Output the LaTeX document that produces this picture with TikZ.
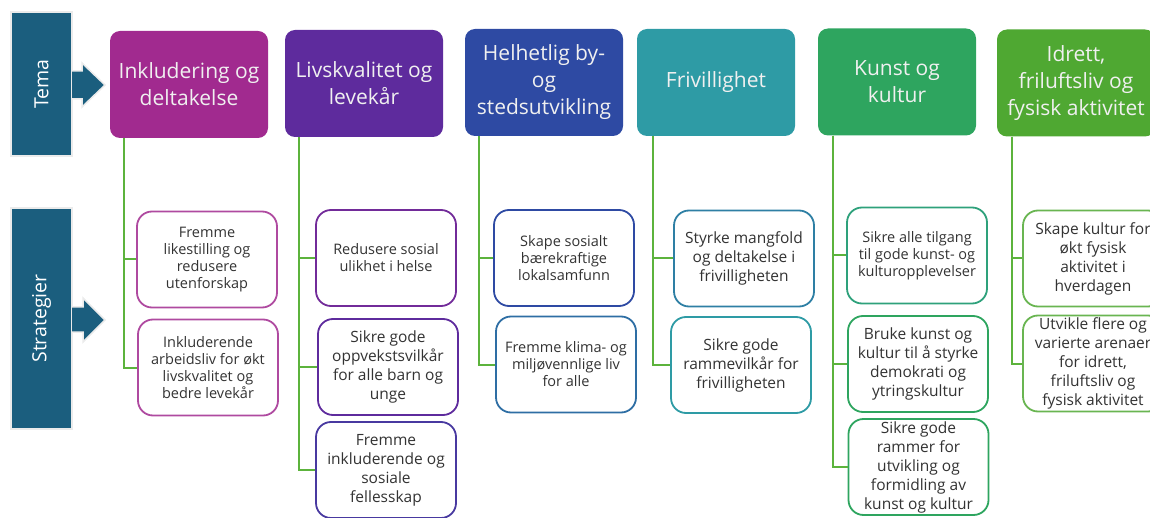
\documentclass[tikz,border=0pt]{standalone}
\usepackage{fontspec}
\setmainfont{Open Sans}
\definecolor{panelblue}{HTML}{1B5E7E}
\definecolor{linkgreen}{HTML}{5CB33C}
\definecolor{textgray}{HTML}{333333}
\definecolor{hone}{HTML}{A12A8F}
\definecolor{htwo}{HTML}{5E2B9D}
\definecolor{hthree}{HTML}{2E4AA3}
\definecolor{hfour}{HTML}{2E9BA5}
\definecolor{hfive}{HTML}{2EA55F}
\definecolor{hsix}{HTML}{4FA832}

\begin{document}
\begin{tikzpicture}[x=1pt, y=-1pt,
	panel/.style={fill=panelblue, draw=black!8, line width=1.5pt, text=white, inner sep=0pt, font=\fontsize{19.5}{23}\selectfont},
	theme/.style={fill=#1, rounded corners=10pt, minimum width=158pt, minimum height=107pt, text=white!94!black, align=center, inner sep=0pt, font=\fontsize{21}{27}\selectfont},
	strat/.style={draw=#1, fill=white, line width=1.8pt, rounded corners=15pt, minimum width=140pt, minimum height=96pt, align=center, text=textgray, inner sep=0pt, font=\fontsize{14.5}{17}\selectfont},
	big/.style={font=\fontsize{15.5}{19}\selectfont},
	link/.style={draw=linkgreen, line width=2pt}]
	%%%%% START %%%%%
	
	\useasboundingbox (0,0) rectangle (1150,518);
	\clip (0,0) rectangle (1150,518);
	
	% left panels
	\node[panel, minimum width=144pt, minimum height=61pt, rotate=90] (tema) at (41.5,84) {Tema};
	\node[panel, minimum width=221pt, minimum height=61pt, rotate=90] (strategier) at (41.5,318.5) {Strategier};
	\draw[panel] (72,71) -- (82,71) -- (82,63) -- (105,85) -- (82,107) -- (82,99) -- (72,99);
	\draw[panel] (72,307) -- (83,307) -- (83,298) -- (105,320) -- (83,342) -- (83,332) -- (72,332);
	
	% themes
	\node[theme=hone] (h1) at (189,84.5) {Inkludering og\\deltakelse};
	\node[theme=htwo] (h2) at (364,83.5) {Livskvalitet og\\levekår};
	\node[theme=hthree] (h3) at (544,82.5) {Helhetlig by-\\og\\stedsutvikling};
	\node[theme=hfour] (h4) at (716,82.5) {Frivillighet};
	\node[theme=hfive] (h5) at (897,82) {Kunst og\\kultur};
	\node[theme=hsix] (h6) at (1076,83) {Idrett,\\friluftsliv og\\fysisk aktivitet};
	
	% strategies
	\node[strat=hone!85!white] (s1a) at (207,259.5) {Fremme\\likestilling og\\redusere\\utenforskap};
	\node[strat=hone!85!white] (s1b) at (208,367.5) {Inkluderende\\arbeidsliv for økt\\livskvalitet og\\bedre levekår};
	
	\node[strat=htwo!70!hone] (s2a) at (386,258) {Redusere sosial\\ulikhet i helse};
	\node[strat=htwo, big] (s2b) at (388,367) {Sikre gode\\oppvekstsvilkår\\for alle barn og\\unge};
	\node[strat=htwo!55!hthree, big] (s2c) at (386,470) {Fremme\\inkluderende og\\sosiale\\fellesskap};
	
	\node[strat=hthree] (s3a) at (564,258) {Skape sosialt\\bærekraftige\\lokalsamfunn};
	\node[strat=hthree!55!hfour] (s3b) at (566,364.5) {Fremme klima- og\\miljøvennlige liv\\for alle};
	
	\node[strat=hfour!65!hthree, big] (s4a) at (744,258.5) {Styrke mangfold\\og deltakelse i\\frivilligheten};
	\node[strat=hfour, big] (s4b) at (741,365) {Sikre gode\\rammevilkår for\\frivilligheten};
	
	\node[strat=hfive!60!hfour] (s5a) at (917,255.5) {Sikre alle tilgang\\til gode kunst- og\\kulturopplevelser};
	\node[strat=hfive, big] (s5b) at (918,364) {Bruke kunst og\\kultur til å styrke\\demokrati og\\ytringskultur};
	\node[strat=hfive, big] (s5c) at (918.5,467) {Sikre gode\\rammer for\\utvikling og\\formidling av\\kunst og kultur};
	
	\node[strat=hsix!85!white, big] (s6a) at (1093,258.5) {Skape kultur for\\økt fysisk\\aktivitet i\\hverdagen};
	\node[strat=hsix!85!white, big] (s6b) at (1093,363.5) {Utvikle flere og\\varierte arenaer\\for idrett,\\friluftsliv og\\fysisk aktivitet};
	
	% connectors
	\draw[link] ([xshift=14pt]h1.south west) |- (s1a.west);
	\draw[link] ([xshift=14pt]h1.south west) |- (s1b.west);
	\draw[link] ([xshift=14pt]h2.south west) |- (s2a.west);
	\draw[link] ([xshift=14pt]h2.south west) |- (s2b.west);
	\draw[link] ([xshift=14pt]h2.south west) |- (s2c.west);
	\draw[link] ([xshift=14pt]h3.south west) |- (s3a.west);
	\draw[link] ([xshift=14pt]h3.south west) |- (s3b.west);
	\draw[link] ([xshift=16pt]h4.south west) |- (s4a.west);
	\draw[link] ([xshift=16pt]h4.south west) |- (s4b.west);
	\draw[link] ([xshift=15pt]h5.south west) |- (s5a.west);
	\draw[link] ([xshift=15pt]h5.south west) |- (s5b.west);
	\draw[link] ([xshift=15pt]h5.south west) |- (s5c.west);
	\draw[link] ([xshift=15pt]h6.south west) |- (s6a.west);
	\draw[link] ([xshift=15pt]h6.south west) |- (s6b.west);
	
	%%%%% END %%%%%
\end{tikzpicture}
\end{document}
